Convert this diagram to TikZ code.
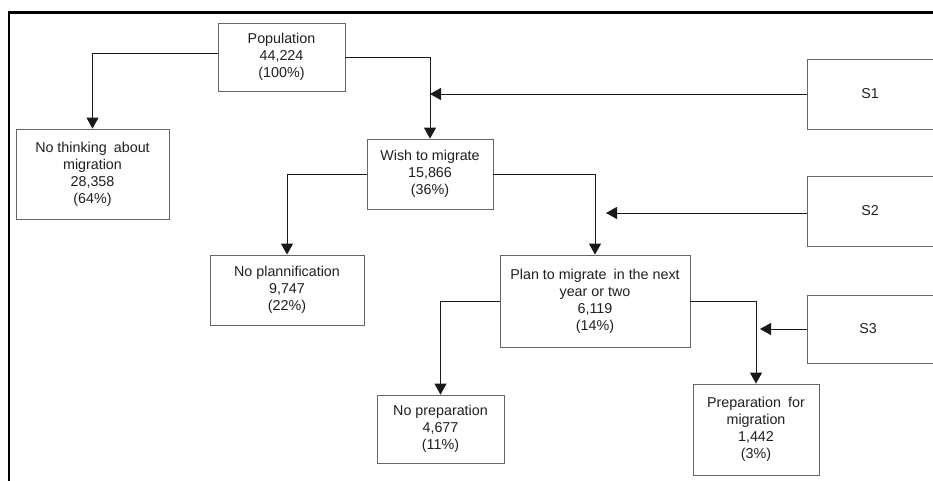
\documentclass[tikz,border=0pt]{standalone}
\usepackage{fontspec}
\setmainfont{Liberation Sans}
\usetikzlibrary{arrows.meta}
\usetikzlibrary{positioning}
\usetikzlibrary{calc}
\tikzset{basic box/.style={draw=black!60,rectangle,align=center,inner sep=2pt,line width=0.8pt}}
\tikzset{flow box/.style={basic box,text=black!88}}
\tikzset{link/.style={draw=black!90,
                      line width=0.9pt}}
\tikzset{arrow link/.style={link,-{Triangle[length=11pt,width=12pt]}}}

\begin{document}
\begin{tikzpicture}
      [
      x=1pt,y=-1pt,
      font=\fontsize{14.3}{17}\selectfont,
      frame line/.style={draw=black,line width=2.4pt},
      ]

      \useasboundingbox (0,0) rectangle (933,481);

      % boxes
      \foreach \n/\x/\y/\w/\h/\t in
      {
      pop/281.5/57/127/68/{Population\\44,224\\(100\%)},
      nothink/92.5/174/153/90/{No thinking\enspace about\\migration\\28,358\\(64\%)},
      wish/430/174/126/70/{Wish to migrate\\15,866\\(36\%)},
      noplan/287/290/154/70/{No plannification\\9,747\\(22\%)},
      plan/595/301/190/92/{Plan to migrate\enspace in the next\\year or two\\6,119\\(14\%)},
      noprep/440.5/429/127/68/{No preparation\\4,677\\(11\%)},
      prep/756/429.5/126/91/{Preparation\enspace for\\migration\\1,442\\(3\%)},
      sa/870/94/126/70/{S1},
      sb/870/211/126/70/{S2},
      sc/870/329/126/68/{S3}
      }
      {
      \node [flow box,minimum width=\w pt,minimum height=\h pt] (\n) at (\x,\y) {\t};
      }

      % frame
      \path [frame line] (9,481) -- (9,12.5) -- (934,12.5);

      % links
      \path [arrow link] ([yshift=4pt]pop.west) -| (nothink.north);
      \path [arrow link] (pop.east) -| (wish.north);
      \path [arrow link] (wish.west) -| (noplan.north);
      \path [arrow link] (wish.east) -| (plan.north);
      \path [arrow link] (plan.west) -| (noprep.north);
      \path [arrow link] (plan.east) -| (prep.north);

      % incoming links
      \coordinate (ina) at (sa.west -| wish.north);
      \coordinate (inb) at ([xshift=11pt]sb.west -| plan.north);
      \coordinate (inc) at ([xshift=4pt]sc.west -| prep.north);
      \path [arrow link] (sa.west) -- (ina);
      \path [arrow link] ([yshift=-2pt]sb.west) -- ([yshift=-2pt]inb);
      \path [arrow link] (sc.west) -- (inc);

    \end{tikzpicture}
\end{document}
